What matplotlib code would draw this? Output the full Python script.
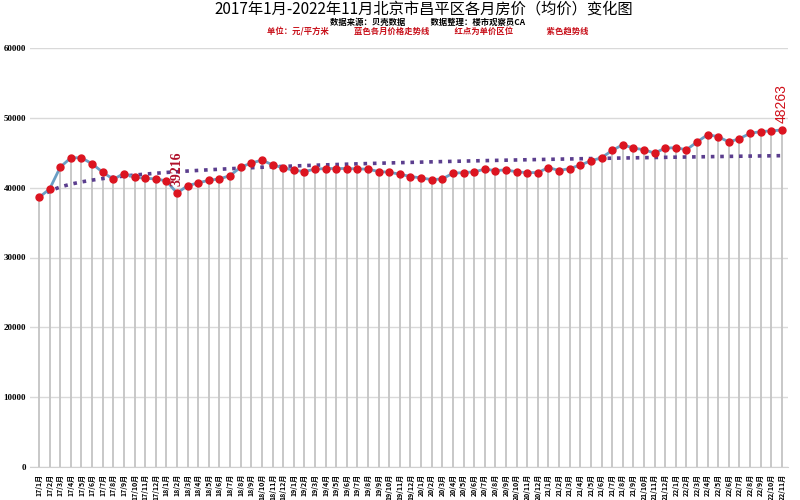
import numpy as np
import matplotlib.pyplot as plt

plt.rcParams['font.family'] = ['Noto Sans CJK SC', 'DejaVu Sans']

# month labels 17/1 .. 22/11
months = [f'{y}/{m}月' for y in range(17, 23) for m in range(1, 13)][:71]

# average price, yuan per square metre
prices = [
    38600, 39810, 42940, 44280, 44280, 43420, 42210, 41200, 42020, 41500, 41350, 41250,
    40970, 39216, 40290, 40680, 41060, 41250, 41730, 42940, 43520, 43950, 43270, 42840,
    42500, 42310, 42650, 42740, 42740, 42740, 42690, 42650, 42310, 42210, 41930, 41590,
    41400, 41150, 41250, 42070, 42160, 42260, 42650, 42450, 42550, 42260, 42160, 42160,
    42880, 42450, 42740, 43230, 43850, 44280, 45330, 46150, 45670, 45430, 44950, 45670,
    45720, 45430, 46540, 47590, 47300, 46540, 47020, 47780, 48030, 48130, 48263,
]

yticks = [0, 10000, 20000, 30000, 40000, 50000, 60000]

title = '2017年1月-2022年11月北京市昌平区各月房价（均价）变化图'
sub1 = '数据来源：贝壳数据　　　数据整理：楼市观察员CA'
sub2 = '单位：元/平方米　　　蓝色各月价格走势线　　　红点为单价区位　　　　紫色趋势线'


def main():
    x = np.arange(len(prices))
    y = np.array(prices)

    fig = plt.figure(figsize=(8, 5), dpi=100)
    ax = fig.add_axes([0.0375, 0.066, 0.9475, 0.838])

    # drop lines from every point down to the axis
    ax.vlines(x, 0, y, color='#c4c4c4', lw=1.3, zorder=1)

    # logarithmic trend line fitted to the monthly prices
    b, a = np.polyfit(np.log(x + 1), y, 1)
    trend = a + b * np.log(x + 1)
    ax.plot(x, trend, color='#5b3e8e', lw=2.6, linestyle=(0, (1, 1.6)), zorder=3)

    ax.plot(x, y, color='#6a9ec4', lw=2, zorder=4)
    ax.plot(x, y, 'o', color='#dc1420', markersize=5, zorder=5)

    low = int(np.argmin(y[6:20])) + 6
    ax.annotate(f'{y[low]}', (x[low], y[low]), xytext=(0, 5), textcoords='offset points',
                rotation=90, ha='center', va='bottom', color='#b0102a',
                fontsize=10, fontweight='bold', family=['Liberation Serif'], zorder=6)
    ax.annotate(f'{y[-1]}', (x[-1], y[-1]), xytext=(0, 5), textcoords='offset points',
                rotation=90, ha='center', va='bottom', color='#d0101a',
                fontsize=10, family=['Liberation Sans'], annotation_clip=False, zorder=6)

    ax.set_xlim(-0.85, 70.57)
    ax.set_ylim(0, 60000)
    ax.set_yticks(yticks)
    ax.set_yticklabels([str(v) for v in yticks], fontsize=6.5, fontweight='bold',
                       family=['Liberation Serif'])
    ax.set_xticks(x)
    ax.set_xticklabels(months, rotation=90, fontsize=5, fontweight='bold', va='top')
    ax.tick_params(axis='x', length=0, pad=5)
    ax.tick_params(axis='y', length=0, pad=3)
    ax.grid(axis='y', color='#d9d9d9', lw=1)
    ax.set_axisbelow(True)
    for s in ['left', 'right', 'top']:
        ax.spines[s].set_visible(False)
    ax.spines['bottom'].set_color('#d0d0d0')

    fig.text(0.53, 0.999, title, ha='center', va='top', fontsize=11)
    fig.text(0.535, 0.955, sub1, ha='center', va='center', fontsize=6, fontweight='bold')
    fig.text(0.535, 0.935, sub2, ha='center', va='center', fontsize=6, fontweight='bold',
             color='#c8101a')

    fig.savefig('out.png', dpi=100)


if __name__ == '__main__':
    main()
